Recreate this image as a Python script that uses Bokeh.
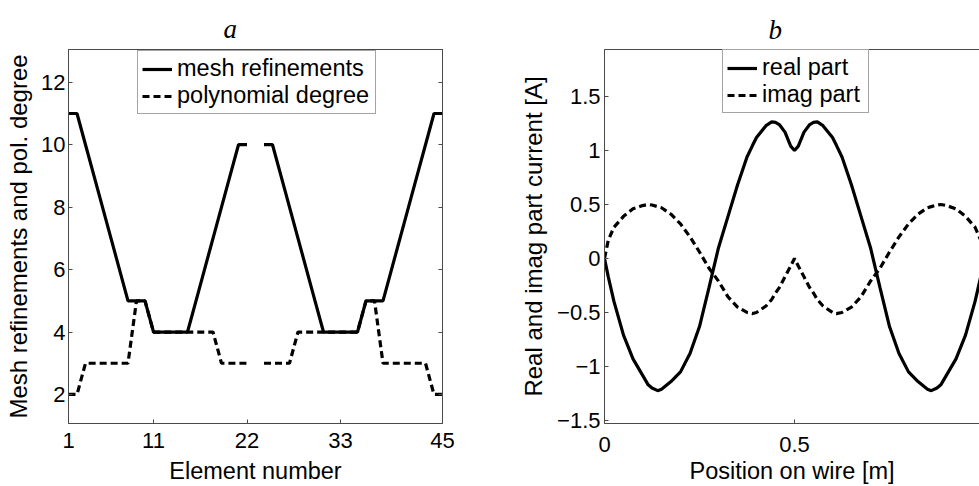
import numpy as np
from bokeh.plotting import figure
from bokeh.models import Range1d, FixedTicker, LinearAxis, Legend, LegendItem, ColumnDataSource
from bokeh.layouts import row
from bokeh.embed import file_html
from bokeh.resources import INLINE

# ---------------- panel a data ----------------
nan = float("nan")
element = list(range(1, 46))
mesh_refinements = [11, 11, 10, 9, 8, 7, 6, 5, 5, 5, 4, 4, 4, 4, 4, 5, 6, 7, 8, 9, 10, 10, nan,
                    10, 10, 9, 8, 7, 6, 5, 4, 4, 4, 4, 4, 5, 5, 5, 6, 7, 8, 9, 10, 11, 11]
polynomial_degree = [2, 2, 3, 3, 3, 3, 3, 3, 5, 5, 4, 4, 4, 4, 4, 4, 4, 4, 3, 3, 3, 3, nan,
                     3, 3, 3, 3, 4, 4, 4, 4, 4, 4, 4, 4, 5, 5, 3, 3, 3, 3, 3, 3, 2, 2]
a_xticks = [1, 11, 22, 33, 45]
a_yticks = [2, 4, 6, 8, 10, 12]
a_legend = ["mesh refinements", "polynomial degree"]

# ---------------- panel b data ----------------
position = [0, 0.01, 0.025, 0.05, 0.075, 0.1, 0.115, 0.125, 0.14, 0.15, 0.175, 0.2, 0.225, 0.25,
            0.275, 0.3, 0.325, 0.35, 0.375, 0.39, 0.4, 0.425, 0.44, 0.45, 0.46, 0.475, 0.49, 0.5,
            0.51, 0.525, 0.54, 0.55, 0.56, 0.575, 0.6, 0.61, 0.625, 0.65, 0.675, 0.7, 0.725, 0.75,
            0.775, 0.8, 0.825, 0.85, 0.86, 0.875, 0.885, 0.9, 0.925, 0.95, 0.975, 0.99, 1.0]
real_part = [0, -0.17, -0.40, -0.71, -0.93, -1.08, -1.17, -1.20, -1.224, -1.21, -1.14, -1.05, -0.88, -0.63,
             -0.27, 0.10, 0.39, 0.68, 0.94, 1.05, 1.12, 1.23, 1.265, 1.26, 1.24, 1.17, 1.04, 1.0,
             1.04, 1.17, 1.24, 1.26, 1.265, 1.23, 1.12, 1.05, 0.94, 0.68, 0.39, 0.10, -0.27, -0.63,
             -0.88, -1.05, -1.14, -1.21, -1.224, -1.20, -1.17, -1.08, -0.93, -0.71, -0.40, -0.17, 0]
imag_part = [0, 0.17, 0.29, 0.39, 0.46, 0.49, 0.50, 0.495, 0.48, 0.47, 0.41, 0.32, 0.20, 0.06,
             -0.09, -0.21, -0.355, -0.45, -0.50, -0.51, -0.50, -0.44, -0.38, -0.32, -0.27, -0.17, -0.07, 0.0,
             -0.07, -0.17, -0.27, -0.32, -0.38, -0.44, -0.50, -0.51, -0.50, -0.45, -0.355, -0.21, -0.09, 0.06,
             0.20, 0.32, 0.41, 0.47, 0.48, 0.495, 0.50, 0.49, 0.46, 0.39, 0.29, 0.17, 0]
b_xticks = [0, 0.5, 1]
b_xticklabels = ["0", "0.5", "1"]
b_yticks = [-1.5, -1.0, -0.5, 0.0, 0.5, 1.0, 1.5]
b_yticklabels = ["\u22121.5", "\u22121", "\u22120.5", "0", "0.5", "1", "1.5"]
b_legend = ["real part", "imag part"]

FONT = "Liberation Sans"
AX = "#4a4a4a"
DASH = "7 4"
H = 486
TOP, BOTTOM = 49, 61          # frames of both panels are aligned by the row layout
FRAME_H = H - TOP - BOTTOM


def style_axis(ax, show_labels=True):
    ax.axis_line_color = AX
    ax.axis_line_width = 1
    ax.major_tick_line_color = AX
    ax.major_tick_in = 4
    ax.major_tick_out = 0
    ax.minor_tick_line_color = None
    ax.major_label_text_font = FONT
    ax.axis_label_text_font = FONT
    ax.axis_label_text_font_size = "23.5px"
    ax.axis_label_text_font_style = "normal"
    ax.axis_label_text_color = "black"
    if show_labels:
        ax.major_label_text_font_size = "22px"
        ax.major_label_text_color = "black"
    else:
        # mirrored tick marks only: labels are not painted at all
        ax.major_label_text_font_size = "1px"
        ax.major_label_text_color = None
        ax.major_label_standoff = 0


def style_title(p, text, offset, standoff):
    p.title.text = text
    p.title.align = "left"
    p.title.offset = offset
    p.title.text_font = "Liberation Serif"
    p.title.text_font_style = "italic"
    p.title.text_font_size = "27px"
    p.title.text_color = "black"
    p.title.standoff = standoff


def make_legend(items, loc, label_width):
    return Legend(items=items, location=loc, label_text_font=FONT, label_text_font_size="23.5px",
                  label_text_color="black", glyph_width=30, glyph_height=24, label_height=24,
                  label_width=label_width, label_standoff=5, padding=4, spacing=0, margin=0,
                  border_line_color=AX, border_line_width=1,
                  background_fill_color="white", background_fill_alpha=1)


# ---------------- panel a ----------------
pa = figure(width=490, height=H, x_range=Range1d(1, 45), y_range=Range1d(1.07, 13.05),
            output_backend="svg", toolbar_location=None, title="a",
            min_border_left=68, min_border_right=48, min_border_top=TOP, min_border_bottom=BOTTOM)
pa.grid.visible = False
pa.outline_line_color = AX
style_title(pa, "a", 155, 11)

pa.xaxis.ticker = FixedTicker(ticks=a_xticks)
pa.yaxis.ticker = FixedTicker(ticks=a_yticks)
pa.xaxis.axis_label = "Element number"
pa.yaxis.axis_label = "Mesh refinements and pol. degree"
for ax in pa.xaxis + pa.yaxis:
    style_axis(ax)
pa.yaxis.axis_label_text_font_size = "24px"
pa.xaxis.major_label_standoff = 9
pa.xaxis.axis_label_standoff = 7
pa.yaxis.major_label_standoff = 3
pa.yaxis.axis_label_standoff = 6

top_a = LinearAxis(ticker=FixedTicker(ticks=a_xticks))
style_axis(top_a, show_labels=False)
pa.add_layout(top_a, "above")
right_a = LinearAxis(ticker=FixedTicker(ticks=a_yticks))
style_axis(right_a, show_labels=False)
pa.add_layout(right_a, "right")

src_a = ColumnDataSource(dict(x=element, mesh=np.array(mesh_refinements, dtype=float),
                              poly=np.array(polynomial_degree, dtype=float)))
ra1 = pa.line("x", "mesh", source=src_a, line_width=3.2, line_color="black")
ra2 = pa.line("x", "poly", source=src_a, line_width=3.2, line_color="black", line_dash=DASH)
pa.add_layout(make_legend([LegendItem(label=a_legend[0], renderers=[ra1]),
                           LegendItem(label=a_legend[1], renderers=[ra2])],
                          (69, FRAME_H - 6 - 61), 194))

# ---------------- panel b ----------------
b_width, b_left = 489, 114
pb = figure(width=b_width, height=H, x_range=Range1d(0, (b_width - b_left) / 380.0),
            y_range=Range1d(-1.528, 1.935),
            output_backend="svg", toolbar_location=None, title="b",
            min_border_left=b_left, min_border_right=0, min_border_top=TOP, min_border_bottom=BOTTOM)
pb.grid.visible = False
pb.outline_line_color = None
style_title(pb, "b", 164, 10)

pb.xaxis.ticker = FixedTicker(ticks=b_xticks)
pb.yaxis.ticker = FixedTicker(ticks=b_yticks)
pb.xaxis.major_label_overrides = {t: s for t, s in zip(b_xticks, b_xticklabels)}
pb.yaxis.major_label_overrides = {t: s for t, s in zip(b_yticks, b_yticklabels)}
pb.xaxis.axis_label = "Position on wire [m]"
pb.yaxis.axis_label = "Real and imag part current [A]"
for ax in pb.xaxis + pb.yaxis:
    style_axis(ax)
pb.yaxis.axis_label_text_font_size = "24px"
pb.xaxis.major_label_standoff = 13
pb.xaxis.axis_label_standoff = 3
pb.yaxis.major_label_standoff = 4
pb.yaxis.axis_label_standoff = 7

top_b = LinearAxis(ticker=FixedTicker(ticks=b_xticks))
style_axis(top_b, show_labels=False)
pb.add_layout(top_b, "above")

src_b = ColumnDataSource(dict(x=position, re=real_part, im=imag_part))
rb1 = pb.line("x", "re", source=src_b, line_width=3.2, line_color="black")
rb2 = pb.line("x", "im", source=src_b, line_width=3.2, line_color="black", line_dash=DASH)
pb.add_layout(make_legend([LegendItem(label=b_legend[0], renderers=[rb1]),
                           LegendItem(label=b_legend[1], renderers=[rb2])],
                          (118, FRAME_H - 5 - 61), 102))

layout = row(pa, pb)
open("out.html", "w").write(file_html(layout, INLINE))
